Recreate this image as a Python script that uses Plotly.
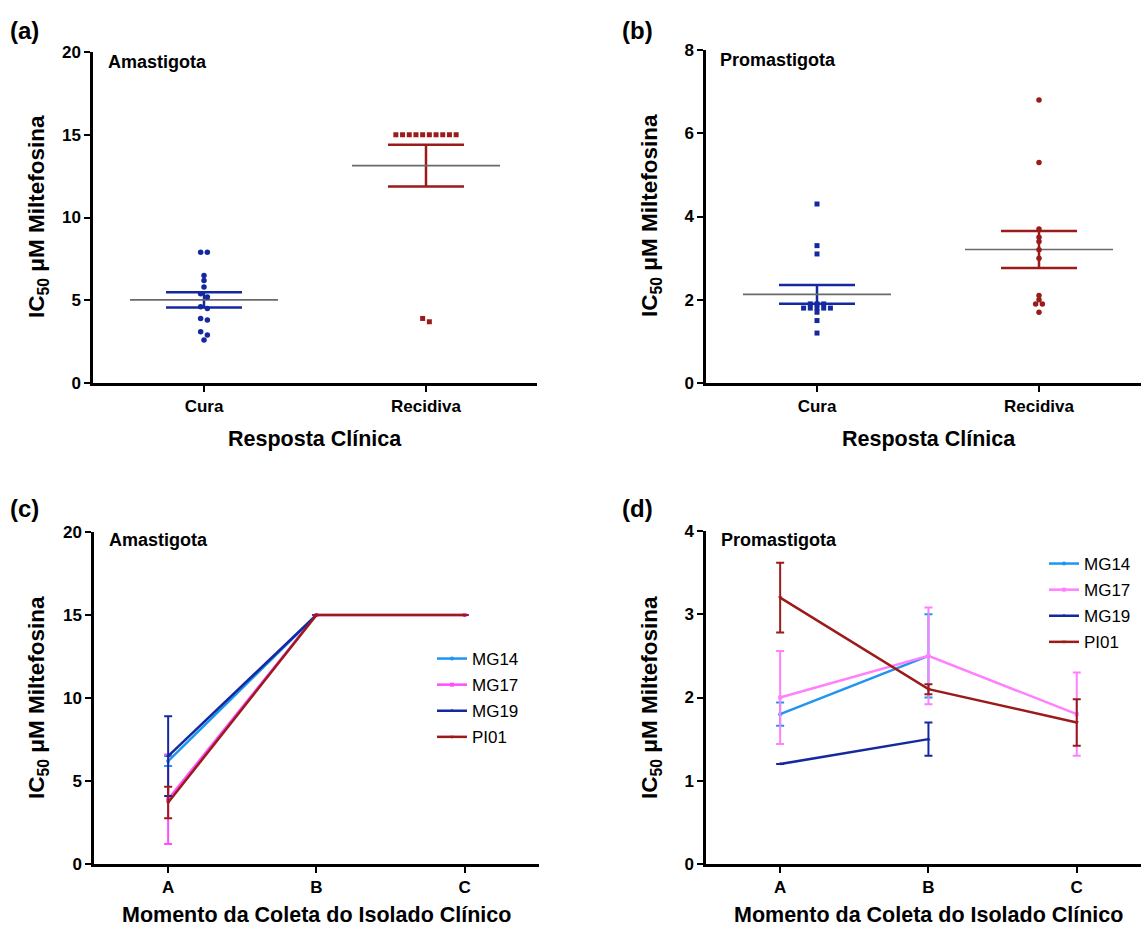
import numpy as np
import plotly.graph_objects as go

W, H = 1141, 928

# ---------------- data ----------------
resp_categories = ["Cura", "Recidiva"]
ama_cura = [7.9, 7.9, 6.5, 6.2, 5.8, 5.4, 5.2, 4.6, 4.5, 3.9, 3.8, 3.1, 2.9, 2.6]
ama_recidiva = [15, 15, 15, 15, 15, 15, 15, 15, 15, 15, 3.9, 3.7]
pro_cura = [4.3, 3.3, 3.1, 1.9, 1.9, 1.9, 1.8, 1.8, 1.8, 1.8, 1.8, 1.7, 1.5, 1.2]
pro_recidiva = [6.8, 5.3, 3.7, 3.5, 3.4, 3.2, 3.0, 2.1, 2.0, 1.9, 1.9, 1.7]

moments = ["A", "B", "C"]
isolates = ["MG14", "MG17", "MG19", "PI01"]
# Amastigota (c): mean and error per isolate over moments A, B, C
ama_MG14 = [6.2, 15, None]
ama_MG17 = [3.9, 15, 15]
ama_MG19 = [6.5, 15, None]
ama_PI01 = [3.7, 15, 15]
ama_MG14_err = [0.3, 0, 0]
ama_MG17_err = [2.7, 0, 0]
ama_MG19_err = [2.4, 0, 0]
ama_PI01_err = [0.95, 0, 0]
# Promastigota (d)
pro_MG14 = [1.8, 2.5, None]
pro_MG17 = [2.0, 2.5, 1.8]
pro_MG19 = [1.2, 1.5, None]
pro_PI01 = [3.2, 2.1, 1.7]
pro_MG14_err = [0.14, 0.5, 0]
pro_MG17_err = [0.56, 0.58, 0.5]
pro_MG19_err = [0.0, 0.2, 0]
pro_PI01_err = [0.42, 0.06, 0.28]

y_ticks_ama = [0, 5, 10, 15, 20]
y_ticks_pro_ab = [0, 2, 4, 6, 8]
y_ticks_pro_cd = [0, 1, 2, 3, 4]

# ---------------- styles ----------------
FONT = "Liberation Sans, Arial, sans-serif"
BLUE = "#14289F"
RED = "#9B1B1B"
GRAY = "#6a6a6a"
ISO_COLORS_C = {"MG14": "#1E96F0", "MG17": "#FF4DFF", "MG19": "#14289F", "PI01": "#9B1B1B"}
ISO_COLORS_D = {"MG14": "#1E96F0", "MG17": "#FF80FF", "MG19": "#14289F", "PI01": "#9B1B1B"}
ISO_SYMBOLS = {"MG14": "circle", "MG17": "square", "MG19": "triangle-up", "PI01": "triangle-down"}

# panel geometry in pixels: left, right, bottom, top
PANELS = {
    "a": (93, 537, 383, 52),
    "b": (706, 1141, 383, 50),
    "c": (94, 539, 864, 532),
    "d": (706, 1141, 864, 531),
}
CAT_SPACING_AB = 222.0  # px between category centres
CAT_SPACING_CD = 148.3


def px2x(px):
    return px / W


def px2y(py):
    return 1 - py / H


def swarm(values, px_per_y, px_per_x, d_px=6.7, thr_px=4.0):
    vals = np.asarray(values, float)
    order = np.argsort(-vals, kind="stable")
    offs = np.zeros(len(vals))
    rows, cur = [], [order[0]]
    for i in order[1:]:
        if (vals[cur[0]] - vals[i]) * px_per_y < thr_px:
            cur.append(i)
        else:
            rows.append(cur)
            cur = [i]
    rows.append(cur)
    for r in rows:
        n = len(r)
        for k, i in enumerate(r):
            offs[i] = (k - (n - 1) / 2) * d_px / px_per_x
    return offs


fig = go.Figure()

axis_common = dict(
    showline=True, linecolor="black", linewidth=2.5, mirror=False,
    ticks="outside", ticklen=6, tickwidth=2, tickcolor="black",
    showgrid=False, zeroline=False, automargin=False,
    tickfont=dict(family=FONT, size=17, color="black", weight="bold"),
)

axes_ids = {"a": ("x", "y", ""), "b": ("x2", "y2", "2"), "c": ("x3", "y3", "3"), "d": ("x4", "y4", "4")}


def setup_axes(key, xrange_, xtickvals, xticktext, yrange, ytickvals):
    l, r, b, t = PANELS[key]
    xa, ya, suf = axes_ids[key]
    fig.layout["xaxis" + suf] = dict(
        axis_common, domain=[px2x(l), px2x(r)], range=xrange_, tickvals=xtickvals,
        ticktext=xticktext, anchor=ya)
    fig.layout["yaxis" + suf] = dict(
        axis_common, domain=[px2y(b), px2y(t)], range=yrange, tickvals=ytickvals, anchor=xa)


def xrange_for(key, spacing):
    l, r, b, t = PANELS[key]
    return [-0.5, -0.5 + (r - l) / spacing]


setup_axes("a", xrange_for("a", CAT_SPACING_AB), [0, 1], resp_categories, [0, 20], y_ticks_ama)
setup_axes("b", xrange_for("b", CAT_SPACING_AB), [0, 1], resp_categories, [0, 8], y_ticks_pro_ab)
setup_axes("c", xrange_for("c", CAT_SPACING_CD), [0, 1, 2], moments, [0, 20], y_ticks_ama)
setup_axes("d", xrange_for("d", CAT_SPACING_CD), [0, 1, 2], moments, [0, 4], y_ticks_pro_cd)


def scatter_panel(key, groups, ymax):
    l, r, b, t = PANELS[key]
    xa, ya, _ = axes_ids[key]
    px_per_y = (b - t) / ymax
    px_per_x = CAT_SPACING_AB
    for ci, (vals, color, symbol) in enumerate(groups):
        vals = np.asarray(vals, float)
        mean = vals.mean()
        sem = vals.std(ddof=1) / np.sqrt(len(vals))
        # SEM bar
        fig.add_trace(go.Scatter(
            x=[ci], y=[mean], mode="markers", marker=dict(size=1, color="rgba(0,0,0,0)"),
            error_y=dict(type="data", array=[sem], color=color, thickness=2.5, width=38),
            xaxis=xa, yaxis=ya, showlegend=False, hoverinfo="skip"))
        # mean line
        fig.add_trace(go.Scatter(
            x=[ci], y=[mean], mode="markers", marker=dict(size=1, color="rgba(0,0,0,0)"),
            error_x=dict(type="data", array=[74 / px_per_x], color=GRAY, thickness=1.6, width=0),
            xaxis=xa, yaxis=ya, showlegend=False, hoverinfo="skip"))
        offs = swarm(vals, px_per_y, px_per_x)
        fig.add_trace(go.Scatter(
            x=ci + offs, y=vals, mode="markers",
            marker=dict(size=5.5 if symbol == "circle" else 5, color=color, symbol=symbol,
                        line=dict(width=0)),
            xaxis=xa, yaxis=ya, showlegend=False))


scatter_panel("a", [(ama_cura, BLUE, "circle"), (ama_recidiva, RED, "square")], 20)
scatter_panel("b", [(pro_cura, BLUE, "square"), (pro_recidiva, RED, "circle")], 8)


def line_panel(key, series, colors, legend_name):
    xa, ya, _ = axes_ids[key]
    xs = list(range(len(moments)))
    for name, vals, errs in series:
        fig.add_trace(go.Scatter(
            x=xs, y=vals, mode="lines+markers", name=name,
            line=dict(color=colors[name], width=2.5),
            marker=dict(symbol=ISO_SYMBOLS[name], size=4, color=colors[name]),
            error_y=dict(type="data", array=errs, color=colors[name], thickness=2, width=4),
            xaxis=xa, yaxis=ya, legend=legend_name, legendgroup=key + name))


line_panel("c", [("MG14", ama_MG14, ama_MG14_err), ("MG17", ama_MG17, ama_MG17_err),
                 ("MG19", ama_MG19, ama_MG19_err), ("PI01", ama_PI01, ama_PI01_err)],
           ISO_COLORS_C, "legend")
line_panel("d", [("MG14", pro_MG14, pro_MG14_err), ("MG17", pro_MG17, pro_MG17_err),
                 ("MG19", pro_MG19, pro_MG19_err), ("PI01", pro_PI01, pro_PI01_err)],
           ISO_COLORS_D, "legend2")

legend_common = dict(font=dict(family=FONT, size=17, color="black"), bgcolor="rgba(0,0,0,0)",
                     borderwidth=0, traceorder="grouped", tracegroupgap=1, itemwidth=30,
                     xanchor="left", yanchor="top")
fig.update_layout(
    legend=dict(legend_common, x=px2x(432), y=px2y(641)),
    legend2=dict(legend_common, x=px2x(1044), y=px2y(546)),
)

annotations = []


def ann(text, x, y, size, bold=True, xanchor="left", angle=0):
    annotations.append(dict(
        text=text, x=px2x(x), y=px2y(y), xref="paper", yref="paper", showarrow=False,
        xanchor=xanchor, yanchor="middle", textangle=angle,
        font=dict(family=FONT, size=size, color="black", weight="bold" if bold else "normal")))


for lab, (x, y) in {"(a)": (8, 30), "(b)": (620, 30), "(c)": (8, 508), "(d)": (620, 508)}.items():
    ann(lab, x, y, 24)
ann("Amastigota", 106, 62, 18)
ann("Promastigota", 718, 60, 18)
ann("Amastigota", 107, 540, 18)
ann("Promastigota", 719, 540, 18)

ytitle = "IC<sub>50</sub> μM Miltefosina"
ann(ytitle, 38, 217, 22.5, xanchor="center", angle=-90)
ann(ytitle, 651, 216, 22.5, xanchor="center", angle=-90)
ann(ytitle, 38, 698, 22.5, xanchor="center", angle=-90)
ann(ytitle, 651, 698, 22.5, xanchor="center", angle=-90)
ann("Resposta Clínica", 315, 439, 21.5, xanchor="center")
ann("Resposta Clínica", 929, 439, 21.5, xanchor="center")
ann("Momento da Coleta do Isolado Clínico", 316, 915, 21.5, xanchor="center")
ann("Momento da Coleta do Isolado Clínico", 928, 915, 21.5, xanchor="center")

fig.update_layout(
    width=W, height=H, margin=dict(l=0, r=0, t=0, b=0, autoexpand=False),
    paper_bgcolor="white", plot_bgcolor="white",
    font=dict(family=FONT, color="black"),
    annotations=annotations, showlegend=True,
)

fig.write_html("out.html")
